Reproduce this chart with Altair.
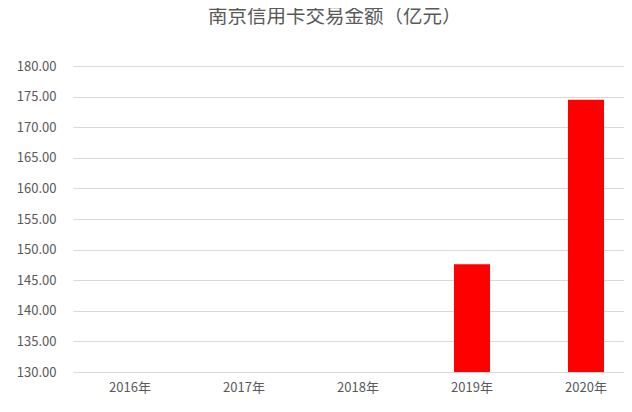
import altair as alt
import pandas as pd

years = ["2016年", "2017年", "2018年", "2019年", "2020年"]
values = [None, None, None, 147.6, 174.5]

df = pd.DataFrame({"year": years, "value": values})

FONT = "Noto Sans CJK SC"

chart = alt.Chart(df).mark_bar(color="#FF0000", clip=True).encode(
    x=alt.X("year:N", sort=years, title=None,
            scale=alt.Scale(paddingInner=0.684, paddingOuter=0.342, range=[0, 570]),
            axis=alt.Axis(labelAngle=0, ticks=False, domain=False, grid=False,
                          labelPadding=9, labelFontSize=13, labelColor="#595959",
                          labelFont=FONT)),
    y=alt.Y("value:Q", title=None,
            scale=alt.Scale(domain=[130, 180], zero=False, nice=False),
            axis=alt.Axis(values=[130, 135, 140, 145, 150, 155, 160, 165, 170, 175, 180],
                          format=".2f", ticks=False, domain=False,
                          gridColor="#D9D9D9", gridWidth=1,
                          labelPadding=17, labelFontSize=13, labelColor="#595959",
                          labelFont=FONT)),
).properties(
    width=551,
    height=306,
    title=alt.TitleParams("南京信用卡交易金额（亿元）", fontSize=19.5, font=FONT,
                          fontWeight="normal", color="#595959", anchor="start",
                          frame="group", dx=135, offset=33),
    autosize=alt.AutoSizeParams(type="none"),
    padding={"left": 65, "top": 58, "right": 0, "bottom": 30},
).configure_view(stroke=None)

chart.save("out.html", embed_options={"renderer": "svg", "actions": False})
